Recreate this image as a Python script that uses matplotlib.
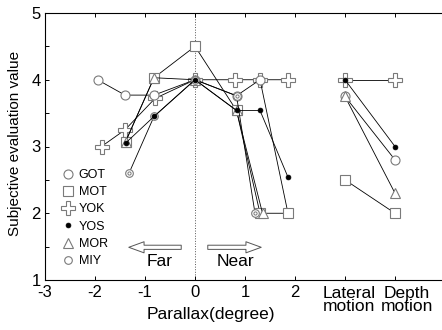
import matplotlib
matplotlib.use('Agg')
import matplotlib.pyplot as plt
from matplotlib.lines import Line2D

plt.rcParams['font.family'] = ['Liberation Sans', 'DejaVu Sans']

# parallax conditions (degree) and subjective scores per subject
got_x = [-1.95, -1.4, -0.82, 0, 0.83, 1.3, 1.86]
got_y = [4.0, 3.77, 3.77, 4.0, 3.76, 4.0, 2.0]
mot_x = [-1.39, -0.82, 0, 0.83, 1.3, 1.86]
mot_y = [3.07, 4.03, 4.5, 3.54, 2.0, 2.0]
yok_x = [-1.87, -1.4, -0.8, 0, 0.8, 1.3, 1.86]
yok_y = [3.0, 3.25, 3.72, 4.0, 4.0, 4.0, 4.0]
yos_x = [-1.39, -0.82, 0, 0.83, 1.3, 1.86]
yos_y = [3.05, 3.45, 4.0, 3.54, 3.54, 2.54]
mor_x = [-1.39, -0.82, 0, 0.83, 1.35]
mor_y = [3.07, 4.03, 4.0, 3.54, 2.0]
miy_x = [-1.32, -0.82, 0, 0.83, 1.2]
miy_y = [2.6, 3.45, 4.0, 3.76, 2.0]

# lateral motion / depth motion conditions
motion_x = [3, 4]
got_motion = [3.75, 2.8]
mot_motion = [2.5, 2.0]
yok_motion = [4.0, 4.0]
yos_motion = [4.0, 3.0]
mor_motion = [3.75, 2.3]

xtick_pos = [-3, -2, -1, 0, 1, 2, 3, 4]
xtick_labels = ['-3', '-2', '-1', '0', '1', '2', '', '']
motion_labels = ['Lateral\nmotion', 'Depth\nmotion']

edge = '#7a7a7a'
line_kw = dict(color='black', lw=0.6)

styles = {
    'GOT': dict(marker='o', ms=6.5, mfc='white', mec=edge, mew=0.8),
    'MOT': dict(marker='s', ms=6.5, mfc='white', mec=edge, mew=0.8),
    'YOK': dict(marker='P', ms=9.5, mfc='white', mec=edge, mew=0.8),
    'YOS': dict(marker='o', ms=3.5, mfc='black', mec='black', mew=0.5),
    'MOR': dict(marker='^', ms=6.5, mfc='white', mec=edge, mew=0.8),
    'MIY': dict(marker='o', ms=5.5, mfc='white', mec=edge, mew=0.8),
}

fig = plt.figure(figsize=(4.42, 3.3), dpi=100)
ax = fig.add_axes([45 / 442, 50 / 330, 410 / 442, 267 / 330])

ax.axvline(0, color='#555555', lw=0.7, ls=':', zorder=1)

series = [
    ('YOK', yok_x, yok_y, yok_motion),
    ('GOT', got_x, got_y, got_motion),
    ('MOT', mot_x, mot_y, mot_motion),
    ('MOR', mor_x, mor_y, mor_motion),
    ('MIY', miy_x, miy_y, None),
    ('YOS', yos_x, yos_y, yos_motion),
]

z = 2
for name, xs, ys, mot in series:
    ax.plot(xs, ys, zorder=z, **line_kw)
    ax.plot(xs, ys, ls='none', zorder=z + 0.5, **styles[name])
    if mot is not None:
        ax.plot(motion_x, mot, zorder=z, **line_kw)
        ax.plot(motion_x, mot, ls='none', zorder=z + 0.5, **styles[name])
    if name == 'MIY':
        ax.plot(xs, ys, ls='none', marker='o', ms=2.3, mfc='white',
                mec=edge, mew=0.7, zorder=z + 0.6)
    z += 1

# arrows for Far / Near
arrow_kw = dict(arrowstyle='simple,head_width=0.8,head_length=1.1,tail_width=0.3',
                fc='white', ec='#555555', lw=0.7, mutation_scale=10)
ax.annotate('', xy=(-1.38, 1.49), xytext=(-0.22, 1.49), arrowprops=arrow_kw)
ax.annotate('', xy=(1.38, 1.49), xytext=(0.2, 1.49), arrowprops=arrow_kw)
ax.text(-0.7, 1.27, 'Far', ha='center', va='center', fontsize=12.5)
ax.text(0.8, 1.27, 'Near', ha='center', va='center', fontsize=12.5)

# legend
names = ['GOT', 'MOT', 'YOK', 'YOS', 'MOR', 'MIY']
handles = [Line2D([], [], ls='none', **styles[n]) for n in names]
ax.legend(handles, names, loc='lower left', bbox_to_anchor=(0.02, 0.02),
          frameon=False, fontsize=9, handletextpad=0.25, labelspacing=0.42,
          borderaxespad=0.2, handlelength=1.2)

ax.set_xlim(-3, 5.2)
ax.set_ylim(1, 5)
ax.set_xticks(xtick_pos)
ax.set_xticklabels(xtick_labels)
ax.set_yticks([1, 2, 3, 4, 5])
ax.set_yticks([1.5, 2.5, 3.5, 4.5], minor=True)
ax.tick_params(axis='both', which='both', direction='in', top=True, right=True,
               labelsize=12, length=3, width=0.7)
ax.tick_params(axis='x', pad=3.5)
ax.tick_params(axis='y', pad=3)
ax.grid(False)
for s in ax.spines.values():
    s.set_linewidth(0.8)

# motion condition labels sit a little right of their ticks
for xpos, lab in zip([3.08, 4.24], motion_labels):
    ax.text(xpos, 1 - 6 / 66.75, lab, ha='center', va='top', fontsize=12.5,
            linespacing=0.82)

fig.text(15 / 442, 1 - 143.5 / 330, 'Subjective evaluation value', rotation=90,
         ha='center', va='center', fontsize=11)
fig.text(211 / 442, 1 - 315 / 330, 'Parallax(degree)',
         ha='center', va='center', fontsize=12.5)

plt.savefig('out.png', dpi=100)
plt.close()
